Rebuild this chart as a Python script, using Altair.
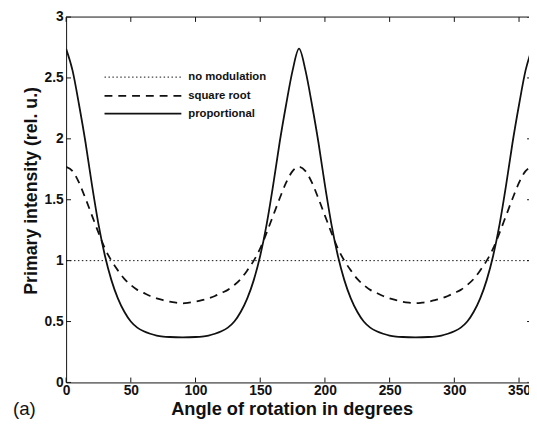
import altair as alt
import pandas as pd

# ---------------- data ----------------
angles = [0, 5, 10, 15, 20, 25, 30, 35, 40, 45, 50, 55, 60, 65, 70, 75, 80, 85, 90,
          95, 100, 105, 110, 115, 120, 125, 130, 135, 140, 145, 150, 155, 160, 165, 170, 175, 180,
          185, 190, 195, 200, 205, 210, 215, 220, 225, 230, 235, 240, 245, 250, 255, 260, 265, 270,
          275, 280, 285, 290, 295, 300, 305, 310, 315, 320, 325, 330, 335, 340, 345, 350, 355, 360]

proportional = [2.74, 2.56, 2.28, 1.97, 1.62, 1.30, 1.04, 0.84, 0.69, 0.58, 0.50, 0.45, 0.42, 0.40, 0.385, 0.377, 0.373, 0.371, 0.37,
                0.371, 0.373, 0.377, 0.385, 0.40, 0.42, 0.45, 0.50, 0.58, 0.69, 0.84, 1.04, 1.30, 1.62, 1.97, 2.28, 2.56, 2.74,
                2.56, 2.28, 1.97, 1.62, 1.30, 1.04, 0.84, 0.69, 0.58, 0.50, 0.45, 0.42, 0.40, 0.385, 0.377, 0.373, 0.371, 0.37,
                0.371, 0.373, 0.377, 0.385, 0.40, 0.42, 0.45, 0.50, 0.58, 0.69, 0.84, 1.04, 1.30, 1.62, 1.97, 2.28, 2.56, 2.74]

square_root = [1.77, 1.735, 1.64, 1.51, 1.37, 1.23, 1.10, 1.00, 0.92, 0.85, 0.80, 0.76, 0.735, 0.71, 0.69, 0.675, 0.663, 0.655, 0.65,
               0.655, 0.663, 0.675, 0.69, 0.71, 0.735, 0.76, 0.80, 0.85, 0.92, 1.00, 1.10, 1.23, 1.37, 1.51, 1.64, 1.735, 1.77,
               1.735, 1.64, 1.51, 1.37, 1.23, 1.10, 1.00, 0.92, 0.85, 0.80, 0.76, 0.735, 0.71, 0.69, 0.675, 0.663, 0.655, 0.65,
               0.655, 0.663, 0.675, 0.69, 0.71, 0.735, 0.76, 0.80, 0.85, 0.92, 1.00, 1.10, 1.23, 1.37, 1.51, 1.64, 1.735, 1.77]

no_mod_angles = [0, 360]
no_mod_values = [1, 1]

x_ticks = [0, 50, 100, 150, 200, 250, 300, 350]
y_ticks = [0, 0.5, 1, 1.5, 2, 2.5, 3]

legend_labels = ["no modulation", "square root", "proportional"]
panel_label = ["(a)"]

x_title = "Angle of rotation in degrees"
y_title = "Primary intensity (rel. u.)"

# ---------------- chart ----------------
INK = "#111111"
FONT = "Liberation Sans"

xscale = alt.Scale(domain=[0, 357.7], nice=False, zero=False)
yscale = alt.Scale(domain=[0, 3], nice=False, zero=False)

xaxis = alt.Axis(values=x_ticks, ticks=False, tickSize=0, labelPadding=1, labelFlush=False,
                 labelOverlap=False, grid=False, title=x_title, titleX=229, titleY=33,
                 titleAlign="center", titleBaseline="alphabetic", titleFontSize=18.5)
yaxis = alt.Axis(values=y_ticks, format="~g", ticks=False, tickSize=0, labelPadding=3,
                 labelOverlap=False, grid=False, title=y_title, titleX=-30, titleY=176,
                 titleAlign="center", titleBaseline="alphabetic", titleAngle=270, titleFontSize=18)


def XF(field):
    return alt.X(field, scale=xscale, axis=xaxis, title=x_title)


def YF(field):
    return alt.Y(field, scale=yscale, axis=yaxis, title=y_title)


def XD(v):
    return alt.XDatum(v, scale=xscale, axis=xaxis, title=x_title)


def YD(v):
    return alt.YDatum(v, scale=yscale, axis=yaxis, title=y_title)


df_prop = pd.DataFrame({"angle": angles, "value": proportional})
df_sqrt = pd.DataFrame({"angle": angles, "value": square_root})
df_none = pd.DataFrame({"angle": no_mod_angles, "value": no_mod_values})

dotted = alt.Chart(df_none).mark_line(color=INK, strokeWidth=1, strokeDash=[1.5, 2.5], clip=True).encode(
    x=XF("angle:Q"), y=YF("value:Q"))
dashed = alt.Chart(df_sqrt).mark_line(color=INK, strokeWidth=1.8, strokeDash=[8, 6],
                                      interpolate="monotone", clip=True).encode(x=XF("angle:Q"), y=YF("value:Q"))
solid = alt.Chart(df_prop).mark_line(color=INK, strokeWidth=1.8, interpolate="monotone",
                                     clip=True).encode(x=XF("angle:Q"), y=YF("value:Q"))

# box frame top line + inward ticks (MATLAB style)
df_xt = pd.DataFrame({"t": x_ticks})
df_yt = pd.DataFrame({"t": y_ticks})
top_line = alt.Chart(df_xt.head(1)).mark_rule(color=INK, strokeWidth=1).encode(y=YD(3))
bottom_ticks = alt.Chart(df_xt).mark_rule(color=INK, strokeWidth=1).encode(
    x=XF("t:Q"), y=YD(0), y2=alt.datum(0.04))
top_ticks = alt.Chart(df_xt).mark_rule(color=INK, strokeWidth=1).encode(
    x=XF("t:Q"), y=YD(3), y2=alt.datum(2.96))
left_ticks = alt.Chart(df_yt).mark_rule(color=INK, strokeWidth=1).encode(
    y=YF("t:Q"), x=XD(0), x2=alt.datum(3.8))
right_ticks = alt.Chart(df_yt).mark_rule(color=INK, strokeWidth=1, clip=True).encode(
    y=YF("t:Q"), x=XD(356.2), x2=alt.datum(357.7))

# legend (inside the plot, no box)
leg_layers = []
leg_styles = [dict(strokeWidth=1, strokeDash=[1.5, 2.5]),
              dict(strokeWidth=1.8, strokeDash=[8, 6]),
              dict(strokeWidth=1.8)]
leg_y = [61, 80, 98]
for lab, sty, yy in zip(legend_labels, leg_styles, leg_y):
    d = pd.DataFrame({"label": [lab]})
    leg_layers.append(alt.Chart(d).mark_rule(color=INK, **sty).encode(
        x=alt.value(39), x2=alt.value(117), y=alt.value(yy)))
    leg_layers.append(alt.Chart(d).mark_text(align="left", baseline="middle", font=FONT,
                                             fontWeight="bold", fontSize=11.5, color=INK).encode(
        x=alt.value(124), y=alt.value(yy), text="label:N"))

panel = alt.Chart(pd.DataFrame({"p": panel_label})).mark_text(
    align="left", baseline="alphabetic", font=FONT, fontSize=19, color=INK).encode(
    x=alt.value(-54), y=alt.value(404), text="p:N")

chart = alt.layer(
    dotted, dashed, solid, top_line, bottom_ticks, top_ticks, left_ticks, right_ticks,
    *leg_layers, panel
).properties(
    width=470, height=371,
    padding={"left": 59, "top": 6, "right": 0, "bottom": 38},
    autosize=alt.AutoSizeParams(type="none"),
    background="white",
).configure_view(stroke=None).configure_axis(
    domainColor=INK, domainWidth=1, labelFont=FONT, labelFontWeight="bold", labelFontSize=14,
    labelColor=INK, titleFont=FONT, titleFontWeight="bold", titleColor=INK,
)

chart.save("out.html", embed_options={"renderer": "svg", "actions": False})
